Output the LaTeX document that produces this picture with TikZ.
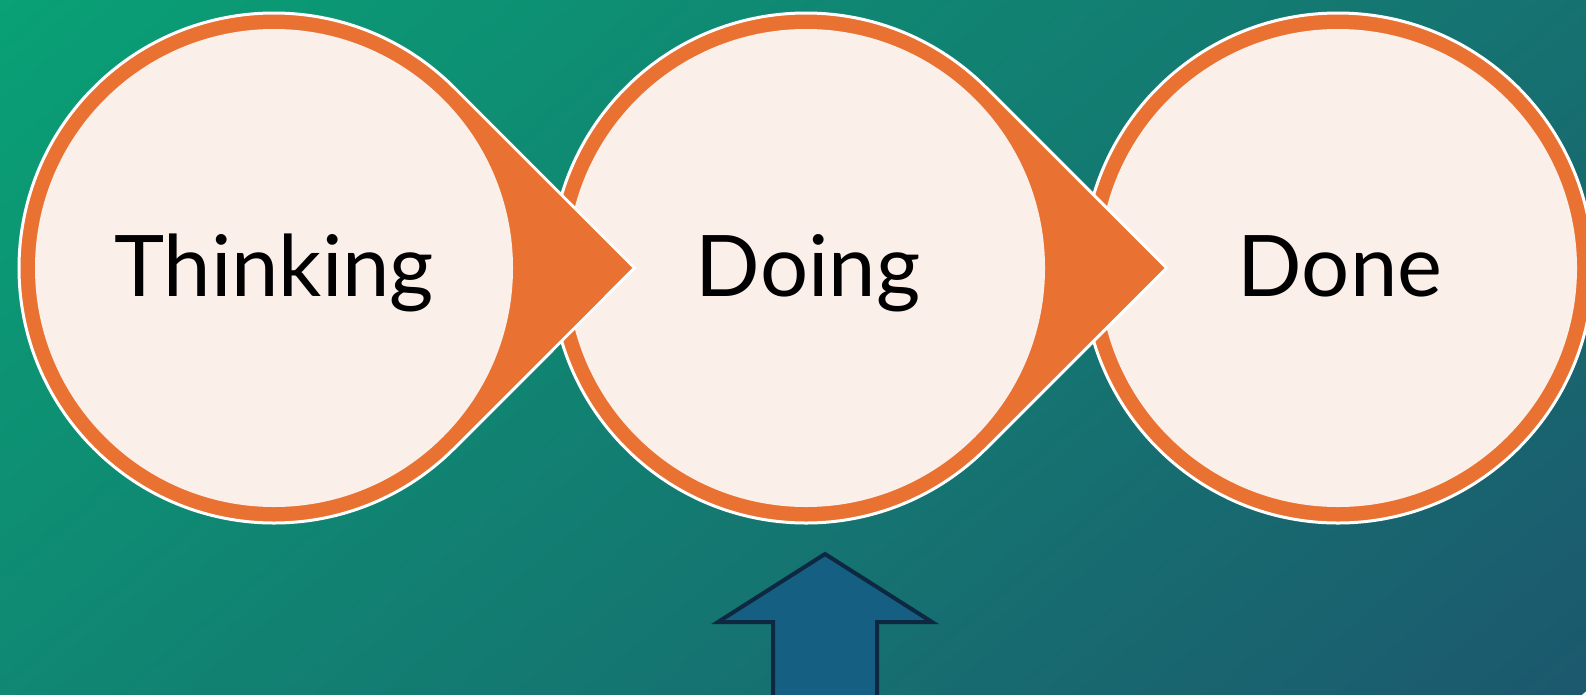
\documentclass[tikz,border=0pt]{standalone}
\usepackage{fontspec}
\setmainfont{Lato}
\usepackage{tikz}
\definecolor{bgtop}{RGB}{9,161,117}
\definecolor{bgbottom}{RGB}{28,88,110}
\definecolor{ringorange}{RGB}{233,113,50}
\definecolor{cream}{RGB}{251,239,233}
\definecolor{pushfill}{RGB}{21,96,130}
\definecolor{pushline}{RGB}{14,40,65}

\begin{document}
\begin{tikzpicture}[x=1pt,y=-1pt,
  ringpart/.style={fill=ringorange,draw=white,line width=3pt},
  core/.style={fill=cream},
  stagetext/.style={font=\fontsize{85}{100}\selectfont,anchor=base,inner sep=0pt},
  pusharrow/.style={fill=pushfill,draw=pushline,line width=4pt,line join=miter}]
\useasboundingbox (0,0) rectangle (1586,694);
\begin{scope}
\clip (0,0) rectangle (1586,694);
\shade[left color=bgtop,right color=bgbottom,transform canvas={rotate around={-50:(0,0)}}] (0,-1400) rectangle (1549,1400);
\end{scope}

\draw[ringpart] (1338,268) circle[radius=255];
\fill[core] (1338,268) circle[radius=239];

\draw[ringpart] (806,268) ++(45:255) arc[start angle=45,end angle=315,radius=255] -- ++(180.3,180.3) -- cycle;
\fill[core] (806,268) circle[radius=239];

\draw[ringpart] (274,268) ++(45:255) arc[start angle=45,end angle=315,radius=255] -- ++(180.3,180.3) -- cycle;
\fill[core] (274,268) circle[radius=239];

\node[stagetext] (thinking) at (274,296) {Thinking};
\node[stagetext] (doing) at (808,296) {Doing};
\node[stagetext] (done) at (1340,296) {Done};

\draw[pusharrow] (773,706) -- (773,622) -- (718,622) -- (825,554) -- (932,622) -- (877,622) -- (877,706) -- cycle;
\end{tikzpicture}
\end{document}
